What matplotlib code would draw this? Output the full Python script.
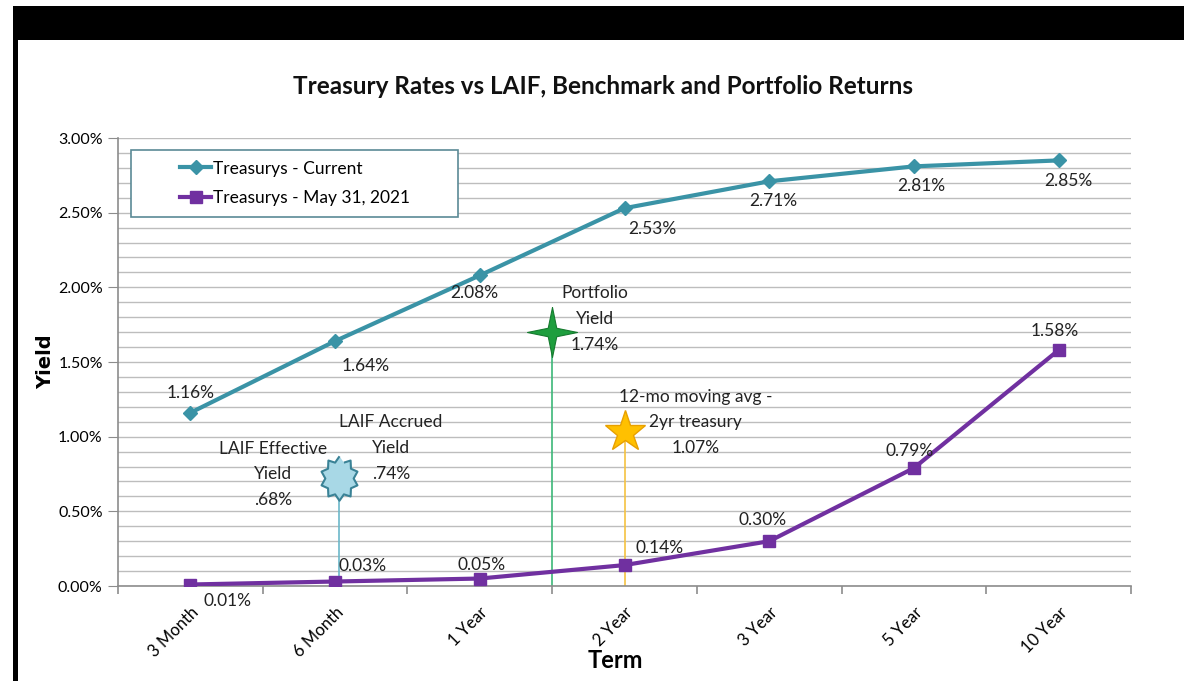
import matplotlib
matplotlib.use("Agg")
import matplotlib.pyplot as plt
from matplotlib.patches import Rectangle
from matplotlib.ticker import MultipleLocator, FuncFormatter
import numpy as np

plt.rcParams['font.family'] = ['Lato', 'DejaVu Sans']

terms = ["3 Month", "6 Month", "1 Year", "2 Year", "3 Year", "5 Year", "10 Year"]
current = [1.16, 1.64, 2.08, 2.53, 2.71, 2.81, 2.85]
may2021 = [0.01, 0.03, 0.05, 0.14, 0.30, 0.79, 1.58]

# Reference markers (position on category axis, plotted yield)
laif_pos, laif_val = 1.03, 0.72
port_pos, port_val = 2.5, 1.70
avg_pos, avg_val = 3.0, 1.03

teal = "#3a93a6"
purple = "#7030a0"

fig = plt.figure(figsize=(11.84, 6.81), dpi=100)
fig.patch.set_facecolor("white")
# black frame pieces
fig.patches.append(Rectangle((13/1184, 1-40/681), 1-13/1184, 34/681, transform=fig.transFigure,
                             facecolor="black", edgecolor="none", zorder=0))
fig.patches.append(Rectangle((13/1184, 0), 5/1184, 1-40/681, transform=fig.transFigure,
                             facecolor="black", edgecolor="none", zorder=0))

ax = fig.add_axes([118/1184, 1-586/681, 1013/1184, 448/681])
x = np.arange(len(terms))

ax.set_xlim(-0.5, len(terms)-0.5)
ax.set_ylim(0, 3.0)
ax.yaxis.set_major_locator(MultipleLocator(0.5))
ax.yaxis.set_minor_locator(MultipleLocator(0.1))
ax.yaxis.set_major_formatter(FuncFormatter(lambda v, p: f"{v:.2f}%"))
ax.grid(True, which="both", axis="y", color="#bdbdbd", linewidth=1.0)
ax.set_axisbelow(True)
for s in ["top", "right"]:
    ax.spines[s].set_visible(False)
for s in ["left", "bottom"]:
    ax.spines[s].set_color("#8c8c8c")
    ax.spines[s].set_linewidth(1.2)
ax.tick_params(axis="y", which="major", length=7, color="#8c8c8c", labelsize=11.5, pad=4)
ax.tick_params(axis="y", which="minor", length=0)
ax.set_xticks(x)
ax.set_xticklabels(terms, rotation=45, ha="right", rotation_mode="anchor", fontsize=12)
ax.tick_params(axis="x", which="major", length=0, pad=13)
ax.set_xticks(np.arange(-0.5, len(terms)), minor=True)
ax.tick_params(axis="x", which="minor", length=6, color="#8c8c8c", width=1.2)

# vertical reference lines
ax.plot([laif_pos, laif_pos], [0, laif_val], color="#6cb8c9", lw=1.2, zorder=2)
ax.plot([port_pos, port_pos], [0, port_val], color="#3cb878", lw=1.2, zorder=2)
ax.plot([avg_pos, avg_pos], [0, avg_val], color="#f5c242", lw=1.2, zorder=2)

l1, = ax.plot(x, current, color=teal, lw=3, marker="D", markersize=7, zorder=3,
              label="Treasurys - Current")
l2, = ax.plot(x, may2021, color=purple, lw=3, marker="s", markersize=8.5, zorder=3,
              label="Treasurys - May 31, 2021")

# markers
star4 = [(0, 1), (0.17, 0.17), (1, 0), (0.17, -0.17), (0, -1), (-0.17, -0.17), (-1, 0), (-0.17, 0.17), (0, 1)]
ang = np.linspace(0, 2*np.pi, 21)[:-1] + np.pi/2
rad = np.where(np.arange(20) % 2 == 0, 1.0, 0.75)
seal = list(zip(0.85*rad*np.cos(ang), rad*np.sin(ang)))
ax.plot([port_pos], [port_val], marker=star4, markersize=36, color="#1e9e3e",
        markeredgecolor="#167a2f", markeredgewidth=0.8, zorder=5)
ax.plot([avg_pos], [avg_val], marker="*", markersize=31, color="#ffc000",
        markeredgecolor="#e8a000", markeredgewidth=1, zorder=5)
ax.plot([laif_pos], [laif_val], marker=seal, markersize=32, color="#a8d8e6",
        markeredgecolor="#3a8296", markeredgewidth=1.5, zorder=5)

fs = 12.5
cur_off = [(0, 14), (22, -18), (-4, -13), (20, -15), (3, -14), (5, -14), (7, -15)]
for xi, v, (dx, dy) in zip(x, current, cur_off):
    ax.annotate(f"{v:.2f}%", (xi, v), xytext=(dx, dy), textcoords="offset points",
                ha="center", va="center", fontsize=fs, color="#222222", zorder=6)
may_off = [(27, -12), (20, 11), (1, 10), (25, 12), (-5, 15), (-3, 12), (-3, 14)]
for xi, v, (dx, dy) in zip(x, may2021, may_off):
    ax.annotate(f"{v:.2f}%", (xi, v), xytext=(dx, dy), textcoords="offset points",
                ha="center", va="center", fontsize=fs, color="#222222", zorder=6)

ls = 1.75
ax.annotate("Portfolio\nYield\n1.74%", (port_pos, port_val), xytext=(31, 9.5), textcoords="offset points",
            ha="center", va="center", fontsize=fs, linespacing=ls, color="#222222", zorder=6)
ax.annotate("12-mo moving avg -\n2yr treasury\n1.07%", (avg_pos, avg_val), xytext=(51, 7),
            textcoords="offset points", ha="center", va="center", fontsize=fs, linespacing=ls,
            color="#222222", zorder=6)
ax.annotate("LAIF Accrued\nYield\n.74%", (laif_pos, laif_val), xytext=(37, 22),
            textcoords="offset points", ha="center", va="center", fontsize=fs, linespacing=ls,
            color="#222222", zorder=6)
ax.annotate("LAIF Effective\nYield\n.68%", (laif_pos, laif_val), xytext=(-47.5, 3),
            textcoords="offset points", ha="center", va="center", fontsize=fs, linespacing=ls,
            color="#222222", zorder=6)

# legend box
ax.add_patch(Rectangle((13/1013, (586-217)/448), 327/1013, 67/448, transform=ax.transAxes,
                       facecolor="white", edgecolor="#5b8a96", lw=1.2, zorder=4))
leg = ax.legend(handles=[l1, l2], loc="center left", bbox_to_anchor=(62/1013, (586-183.5)/448),
                frameon=False, fontsize=12.5, handlelength=1.8, handletextpad=0.1,
                labelspacing=0.8, borderaxespad=0, borderpad=0)
leg.set_zorder(7)

ax.set_ylabel("Yield", fontsize=14, fontweight="bold", family="DejaVu Sans")
ax.yaxis.set_label_coords((55-118)/1013, 0.5)
ax.set_xlabel("Term", fontsize=17, fontweight="bold")
ax.xaxis.set_label_coords((615-118)/1013, (586-661)/448)
ax.xaxis.label.set_va("center")
fig.text(603/1184, 1-86/681, "Treasury Rates vs LAIF, Benchmark and Portfolio Returns",
         ha="center", va="center", fontsize=17.5, fontweight="bold", color="#111111")

fig.savefig("out.png", dpi=100)
